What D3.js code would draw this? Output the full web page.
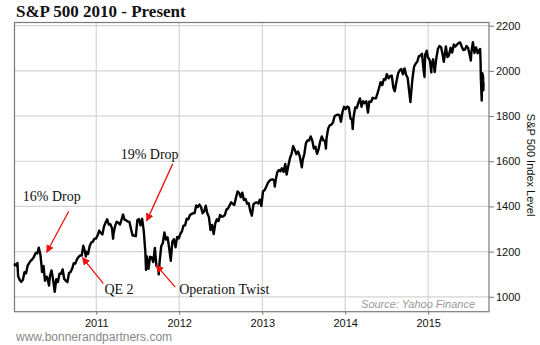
<!DOCTYPE html>
<html>
<head>
<meta charset="utf-8">
<script src="https://cdn.jsdelivr.net/npm/d3@7"></script>
<style>
body { margin: 0; background: #fff; }
</style>
</head>
<body>
<div id="chart"></div>
<script>
// weekly-ish closes of the S&P 500
const closes2010 = [
	['2010-01-06', 1137], ['2010-01-08', 1144], ['2010-01-15', 1136], ['2010-01-19', 1150], ['2010-01-22', 1091],
	['2010-01-29', 1074], ['2010-02-05', 1066], ['2010-02-12', 1075], ['2010-02-19', 1109], ['2010-02-26', 1104],
	['2010-03-05', 1138], ['2010-03-12', 1150], ['2010-03-19', 1160], ['2010-03-26', 1167], ['2010-04-02', 1178],
	['2010-04-09', 1194], ['2010-04-16', 1192], ['2010-04-23', 1217], ['2010-04-30', 1187], ['2010-05-06', 1128],
	['2010-05-07', 1110], ['2010-05-14', 1136], ['2010-05-20', 1071], ['2010-05-21', 1087], ['2010-05-28', 1089],
	['2010-06-04', 1064], ['2010-06-07', 1050], ['2010-06-11', 1092], ['2010-06-18', 1117], ['2010-06-25', 1076],
	['2010-07-02', 1022], ['2010-07-09', 1078], ['2010-07-16', 1065], ['2010-07-23', 1102], ['2010-07-30', 1102],
	['2010-08-06', 1121], ['2010-08-13', 1079], ['2010-08-20', 1071], ['2010-08-27', 1065], ['2010-09-03', 1105],
	['2010-09-10', 1110], ['2010-09-17', 1125], ['2010-09-24', 1149], ['2010-10-01', 1147], ['2010-10-08', 1166],
	['2010-10-15', 1176], ['2010-10-22', 1183], ['2010-10-29', 1183], ['2010-11-05', 1226], ['2010-11-12', 1200],
	['2010-11-16', 1178], ['2010-11-19', 1199], ['2010-11-26', 1189], ['2010-12-03', 1225], ['2010-12-10', 1240],
	['2010-12-17', 1244], ['2010-12-23', 1256], ['2010-12-31', 1258]
]

const closes2011 = [
	['2011-01-07', 1272], ['2011-01-14', 1293], ['2011-01-21', 1283], ['2011-01-28', 1276], ['2011-02-04', 1311],
	['2011-02-11', 1329], ['2011-02-18', 1343], ['2011-02-25', 1320], ['2011-03-04', 1321], ['2011-03-11', 1304],
	['2011-03-16', 1257], ['2011-03-18', 1279], ['2011-03-25', 1314], ['2011-04-01', 1332], ['2011-04-08', 1328],
	['2011-04-15', 1320], ['2011-04-21', 1337], ['2011-04-29', 1364], ['2011-05-06', 1340], ['2011-05-13', 1338],
	['2011-05-20', 1333], ['2011-05-27', 1331], ['2011-06-03', 1300], ['2011-06-10', 1271], ['2011-06-17', 1271],
	['2011-06-24', 1268], ['2011-07-01', 1340], ['2011-07-08', 1344], ['2011-07-15', 1316], ['2011-07-22', 1345],
	['2011-07-29', 1292], ['2011-08-05', 1199], ['2011-08-08', 1119], ['2011-08-12', 1179], ['2011-08-19', 1124],
	['2011-08-26', 1177], ['2011-09-02', 1174], ['2011-09-09', 1154], ['2011-09-16', 1216], ['2011-09-23', 1136],
	['2011-09-30', 1131], ['2011-10-03', 1099], ['2011-10-07', 1155], ['2011-10-14', 1224], ['2011-10-21', 1238],
	['2011-10-28', 1285], ['2011-11-04', 1253], ['2011-11-11', 1263], ['2011-11-18', 1216], ['2011-11-25', 1159],
	['2011-12-02', 1244], ['2011-12-09', 1255], ['2011-12-16', 1219], ['2011-12-23', 1265], ['2011-12-30', 1258]
]

const closes2012 = [
	['2012-01-06', 1278], ['2012-01-13', 1289], ['2012-01-20', 1315], ['2012-01-27', 1316], ['2012-02-03', 1345],
	['2012-02-10', 1343], ['2012-02-17', 1361], ['2012-02-24', 1366], ['2012-03-02', 1370], ['2012-03-09', 1371],
	['2012-03-16', 1404], ['2012-03-23', 1397], ['2012-03-30', 1408], ['2012-04-06', 1398], ['2012-04-13', 1370],
	['2012-04-20', 1378], ['2012-04-27', 1403], ['2012-05-04', 1369], ['2012-05-11', 1353], ['2012-05-18', 1295],
	['2012-05-25', 1318], ['2012-06-01', 1278], ['2012-06-08', 1325], ['2012-06-15', 1343], ['2012-06-22', 1335],
	['2012-06-29', 1362], ['2012-07-06', 1354], ['2012-07-13', 1356], ['2012-07-20', 1362], ['2012-07-27', 1386],
	['2012-08-03', 1391], ['2012-08-10', 1405], ['2012-08-17', 1418], ['2012-08-24', 1411], ['2012-08-31', 1407],
	['2012-09-07', 1438], ['2012-09-14', 1466], ['2012-09-21', 1460], ['2012-09-28', 1441], ['2012-10-05', 1461],
	['2012-10-12', 1428], ['2012-10-19', 1433], ['2012-10-26', 1412], ['2012-11-02', 1414], ['2012-11-09', 1380],
	['2012-11-16', 1359], ['2012-11-23', 1409], ['2012-11-30', 1416], ['2012-12-07', 1418], ['2012-12-14', 1413],
	['2012-12-21', 1430], ['2012-12-28', 1402]
]

const closes2013 = [
	['2013-01-04', 1466], ['2013-01-11', 1472], ['2013-01-18', 1486], ['2013-01-25', 1503], ['2013-02-01', 1513],
	['2013-02-08', 1518], ['2013-02-15', 1520], ['2013-02-22', 1516], ['2013-02-25', 1488], ['2013-03-01', 1518],
	['2013-03-08', 1551], ['2013-03-15', 1561], ['2013-03-22', 1556], ['2013-03-28', 1569], ['2013-04-05', 1553],
	['2013-04-12', 1588], ['2013-04-18', 1541], ['2013-04-26', 1582], ['2013-05-03', 1614], ['2013-05-10', 1634],
	['2013-05-17', 1667], ['2013-05-24', 1650], ['2013-05-31', 1631], ['2013-06-07', 1643], ['2013-06-14', 1626],
	['2013-06-24', 1573], ['2013-06-28', 1606], ['2013-07-05', 1632], ['2013-07-12', 1680], ['2013-07-19', 1692],
	['2013-07-26', 1691], ['2013-08-02', 1710], ['2013-08-09', 1691], ['2013-08-16', 1656], ['2013-08-23', 1664],
	['2013-08-30', 1633], ['2013-09-06', 1655], ['2013-09-13', 1688], ['2013-09-20', 1710], ['2013-09-27', 1692],
	['2013-10-04', 1690], ['2013-10-08', 1656], ['2013-10-11', 1703], ['2013-10-18', 1745], ['2013-10-25', 1759],
	['2013-11-01', 1762], ['2013-11-08', 1771], ['2013-11-15', 1798], ['2013-11-22', 1804], ['2013-11-29', 1806],
	['2013-12-06', 1805], ['2013-12-13', 1775], ['2013-12-20', 1818], ['2013-12-27', 1841]
]

const closes2014 = [
	['2014-01-03', 1831], ['2014-01-10', 1842], ['2014-01-17', 1838], ['2014-01-24', 1790], ['2014-01-31', 1783],
	['2014-02-03', 1742], ['2014-02-07', 1797], ['2014-02-14', 1838], ['2014-02-21', 1836], ['2014-02-28', 1859],
	['2014-03-07', 1878], ['2014-03-14', 1841], ['2014-03-21', 1866], ['2014-03-28', 1857], ['2014-04-04', 1865],
	['2014-04-11', 1815], ['2014-04-17', 1864], ['2014-04-25', 1863], ['2014-05-02', 1881], ['2014-05-09', 1878],
	['2014-05-16', 1878], ['2014-05-23', 1900], ['2014-05-30', 1924], ['2014-06-06', 1950], ['2014-06-13', 1937],
	['2014-06-20', 1963], ['2014-06-27', 1961], ['2014-07-03', 1985], ['2014-07-11', 1967], ['2014-07-18', 1978],
	['2014-07-25', 1979], ['2014-08-01', 1925], ['2014-08-07', 1910], ['2014-08-15', 1955], ['2014-08-22', 1989],
	['2014-08-29', 2003], ['2014-09-05', 2008], ['2014-09-12', 1985], ['2014-09-19', 2011], ['2014-09-26', 1983],
	['2014-10-03', 1968], ['2014-10-10', 1906], ['2014-10-15', 1862], ['2014-10-17', 1887], ['2014-10-24', 1965],
	['2014-10-31', 2018], ['2014-11-07', 2032], ['2014-11-14', 2040], ['2014-11-21', 2064], ['2014-11-28', 2068],
	['2014-12-05', 2076], ['2014-12-12', 2003], ['2014-12-16', 1973], ['2014-12-19', 2071], ['2014-12-26', 2089],
	['2014-12-31', 2059]
]

const closes2015 = [
	['2015-01-02', 2058], ['2015-01-09', 2045], ['2015-01-15', 1993], ['2015-01-16', 2019], ['2015-01-23', 2051],
	['2015-01-30', 1995], ['2015-02-06', 2055], ['2015-02-13', 2097], ['2015-02-20', 2110], ['2015-02-27', 2105],
	['2015-03-06', 2071], ['2015-03-11', 2040], ['2015-03-13', 2053], ['2015-03-20', 2108], ['2015-03-27', 2061],
	['2015-04-02', 2067], ['2015-04-10', 2102], ['2015-04-17', 2081], ['2015-04-24', 2117], ['2015-05-01', 2108],
	['2015-05-08', 2116], ['2015-05-15', 2123], ['2015-05-22', 2126], ['2015-05-29', 2107], ['2015-06-05', 2092],
	['2015-06-12', 2094], ['2015-06-19', 2110], ['2015-06-26', 2101], ['2015-07-02', 2076], ['2015-07-08', 2046],
	['2015-07-10', 2077], ['2015-07-17', 2127], ['2015-07-24', 2079], ['2015-07-31', 2104], ['2015-08-07', 2078],
	['2015-08-14', 2092], ['2015-08-18', 2097], ['2015-08-20', 2035], ['2015-08-21', 1971], ['2015-08-24', 1893],
	['2015-08-25', 1868], ['2015-08-26', 1940], ['2015-08-27', 1988], ['2015-08-28', 1989], ['2015-08-31', 1972],
	['2015-09-01', 1914], ['2015-09-02', 1948]
]

const yTicks = [1000, 1200, 1400, 1600, 1800, 2000, 2200]
const xTickYears = ['2011', '2012', '2013', '2014', '2015']

// arrow tips in data terms, label text
const notes = [
	{ label: '16% Drop', date: '2010-05-28', value: 1197 },
	{ label: 'QE 2', date: '2010-11-01', value: 1173 },
	{ label: '19% Drop', date: '2011-08-11', value: 1336 },
	{ label: 'Operation Twist', date: '2011-09-22', value: 1140 }
]

let width = 540
let height = 345
let plotL = 14.5, plotR = 489, plotT = 22.5, plotB = 311.7

let parse = d3.timeParse('%Y-%m-%d')
let series = [].concat(closes2010, closes2011, closes2012, closes2013, closes2014, closes2015)
	.map(d => ({ date: parse(d[0]), value: d[1] }))

let svg = d3
	.select('#chart')
	.append('svg')
	.attr('width', width)
	.attr('height', height)
	.style('font-family', 'Liberation Sans, Arial, sans-serif')

let x = d3.scaleTime()
	.domain([parse('2010-01-06'), parse('2015-09-26')])
	.range([plotL, plotR])

let y = d3.scaleLinear()
	.domain([934, 2214])
	.range([plotB, plotT])

let yearDates = xTickYears.map(s => parse(s + '-01-01'))

// grid
svg.append('g')
	.selectAll('line')
	.data(yTicks)
	.join('line')
	.attr('x1', plotL).attr('x2', plotR)
	.attr('y1', d => y(d)).attr('y2', d => y(d))
	.attr('stroke', '#d4d4d4')
	.attr('stroke-width', 1.2)

svg.append('g')
	.selectAll('line')
	.data(yearDates)
	.join('line')
	.attr('x1', d => x(d)).attr('x2', d => x(d))
	.attr('y1', plotT).attr('y2', plotB)
	.attr('stroke', '#d4d4d4')
	.attr('stroke-width', 1.2)

// frame
svg.append('rect')
	.attr('x', plotL).attr('y', plotT)
	.attr('width', plotR - plotL).attr('height', plotB - plotT)
	.attr('fill', 'none')
	.attr('stroke', '#7a7a7a')
	.attr('stroke-width', 1.2)

// axes
let yAxis = svg.append('g')
	.attr('transform', `translate(${plotR},0)`)
	.call(d3.axisRight(y).tickValues(yTicks).tickFormat(d3.format('d')).tickSize(5).tickPadding(2))
yAxis.select('.domain').remove()
yAxis.selectAll('line').attr('stroke', '#7a7a7a')
yAxis.selectAll('text').attr('font-size', 11).attr('font-family', 'Liberation Sans, Arial, sans-serif').attr('fill', '#111')

let xAxis = svg.append('g')
	.attr('transform', `translate(0,${plotB})`)
	.call(d3.axisBottom(x).tickValues(yearDates).tickFormat(d3.timeFormat('%Y')).tickSize(3).tickPadding(5))
xAxis.select('.domain').remove()
xAxis.selectAll('line').attr('stroke', '#7a7a7a')
xAxis.selectAll('text').attr('font-size', 11).attr('font-family', 'Liberation Sans, Arial, sans-serif').attr('fill', '#111')

// price line
let line = d3.line()
	.x(d => x(d.date))
	.y(d => y(d.value))

svg.append('path')
	.datum(series)
	.attr('d', line)
	.attr('fill', 'none')
	.attr('stroke', '#000')
	.attr('stroke-width', 2.4)
	.attr('stroke-linejoin', 'round')

// arrows
svg.append('defs')
	.append('marker')
	.attr('id', 'head')
	.attr('markerUnits', 'userSpaceOnUse')
	.attr('viewBox', '0 0 10 10')
	.attr('refX', 9).attr('refY', 5)
	.attr('markerWidth', 8).attr('markerHeight', 8)
	.attr('orient', 'auto')
	.append('path')
	.attr('d', 'M0,0 L10,5 L0,10 z')
	.attr('fill', '#ee1111')

// tail offsets and label offsets, pixels from the tip
let noteStyle = [
	{ dx: 22, dy: -41, tx: -24, ty: -51 },
	{ dx: 21, dy: 26, tx: 22, ty: 36 },
	{ dx: 26, dy: -57, tx: -26, ty: -62 },
	{ dx: 19, dy: 22, tx: 23, ty: 29 }
]

notes.forEach((n, i) => {
	let tipX = x(parse(n.date))
	let tipY = y(n.value)
	let s = noteStyle[i]
	svg.append('line')
		.attr('x1', tipX + s.dx).attr('y1', tipY + s.dy)
		.attr('x2', tipX).attr('y2', tipY)
		.attr('stroke', '#ee1111')
		.attr('stroke-width', 1.3)
		.attr('marker-end', 'url(#head)')
	svg.append('text')
		.attr('x', tipX + s.tx)
		.attr('y', tipY + s.ty)
		.attr('font-family', 'Liberation Serif, Times New Roman, serif')
		.attr('font-size', 14)
		.attr('fill', '#111')
		.text(n.label)
})

// titles and credits
svg.append('text')
	.attr('x', 16).attr('y', 17)
	.attr('font-family', 'Liberation Serif, Times New Roman, serif')
	.attr('font-weight', 'bold')
	.attr('font-size', 17)
	.attr('fill', '#111')
	.text('S&P 500 2010 - Present')

svg.append('text')
	.attr('transform', `translate(527,${(plotT + plotB) / 2 - 2}) rotate(90)`)
	.attr('text-anchor', 'middle')
	.attr('font-size', 11)
	.attr('fill', '#111')
	.text('S&P 500 Index Level')

svg.append('text')
	.attr('x', plotR - 14).attr('y', 308)
	.attr('text-anchor', 'end')
	.attr('font-size', 11)
	.attr('font-style', 'italic')
	.attr('fill', '#999')
	.text('Source: Yahoo Finance')

svg.append('text')
	.attr('x', 16).attr('y', 341)
	.attr('font-size', 12)
	.attr('fill', '#888')
	.text('www.bonnerandpartners.com')
</script>
</body>
</html>
